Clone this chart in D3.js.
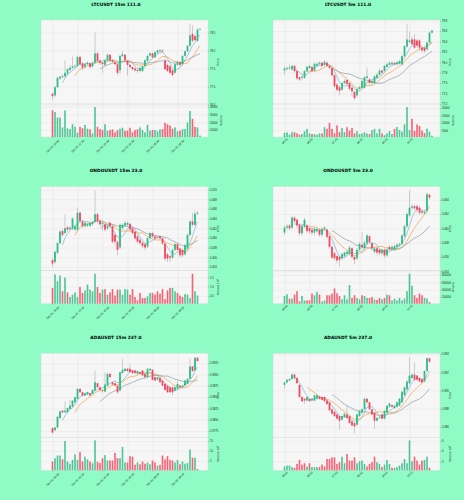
<!DOCTYPE html>
<html>
<head>
<meta charset="utf-8">
<script src="https://cdn.jsdelivr.net/npm/d3@7"></script>
<style>
  body { margin: 0; background: #8efcc4; }
  svg { display: block; font-family: "DejaVu Sans", sans-serif; }
</style>
</head>
<body>
<script>
// candles are [open, high, low, close]
const ltc15Candles = [
  [76.80,76.84,76.62,76.73],[76.75,77.02,76.70,76.98],[76.98,77.28,76.95,77.24],[77.22,77.30,77.18,77.27],[77.26,77.34,77.22,77.29],
  [77.28,77.72,77.25,77.38],[77.36,77.52,77.30,77.48],[77.46,77.60,77.42,77.52],[77.52,77.83,77.48,77.56],[77.55,77.62,77.50,77.57],
  [77.57,77.86,77.54,77.82],[77.82,77.85,77.58,77.62],[77.64,77.68,77.46,77.52],[77.55,77.66,77.50,77.62],[77.62,77.70,77.58,77.66],
  [77.65,77.68,77.50,77.54],[77.56,77.70,77.52,77.66],[77.66,78.50,77.62,77.92],[77.92,77.96,77.66,77.71],[77.72,77.76,77.60,77.66],
  [77.66,77.70,77.38,77.62],[77.60,77.76,77.56,77.73],[77.73,77.92,77.70,77.88],[77.88,77.90,77.68,77.73],[77.73,77.76,77.64,77.68],
  [77.68,77.70,77.58,77.62],[77.62,77.66,77.32,77.38],[77.45,77.88,77.34,77.85],[77.85,77.98,77.82,77.90],[77.88,77.90,77.70,77.73],
  [77.72,77.74,77.30,77.60],[77.60,77.62,77.50,77.54],[77.54,77.56,77.44,77.48],[77.50,77.53,77.40,77.45],[77.46,77.49,77.38,77.43],
  [77.43,77.55,77.40,77.52],[77.43,77.60,77.40,77.57],[77.57,77.76,77.55,77.73],[77.71,77.88,77.68,77.85],[77.86,77.95,77.83,77.92],
  [77.92,77.94,77.78,77.81],[77.81,77.98,77.78,77.95],[77.94,78.02,77.90,78.00],[77.98,78.04,77.96,78.01],[78.00,78.03,77.94,77.97],
  [77.72,77.78,77.45,77.48],[77.60,77.64,77.40,77.43],[77.56,77.60,77.35,77.38],[77.45,77.48,77.28,77.32],[77.38,77.65,77.35,77.62],
  [77.60,77.72,77.56,77.68],[77.68,77.72,77.55,77.60],[77.62,77.88,77.58,77.85],[77.85,78.00,77.82,77.98],[77.98,78.16,77.95,78.13],
  [78.13,78.74,78.10,78.42],[78.46,78.70,78.22,78.27],[78.40,78.44,78.25,78.29],[78.27,78.62,78.24,78.58],[78.58,78.62,78.56,78.60]
];
const ltc15Volume = [
  35300,33200,26000,26000,13200,35300,12000,11000,17400,14000,
  6400,14000,12300,16600,11500,10600,5500,39600,14000,11000,
  9800,17400,8900,9800,10600,6800,9400,11500,12800,8900,
  8900,12800,6800,9800,10600,13200,9800,6800,16600,8900,
  9800,9800,8100,10600,11000,19100,17400,15700,11500,13200,
  8100,8900,11000,11000,19600,34500,24300,14000,13200,2550
];

const ltc5Candles = [
  [77.84,77.93,77.76,77.88],[77.87,77.92,77.84,77.89],[77.88,77.96,77.85,77.90],[77.86,77.95,77.84,77.93],[77.93,77.95,77.80,77.83],
  [77.83,77.85,77.66,77.69],[77.71,77.73,77.64,77.67],[77.70,77.76,77.66,77.72],[77.70,77.85,77.68,77.83],[77.83,77.94,77.81,77.91],
  [77.89,77.95,77.87,77.93],[77.91,77.93,77.80,77.83],[77.84,77.99,77.82,77.97],[77.93,78.00,77.91,77.97],[77.96,78.02,77.94,77.99],
  [77.99,78.01,77.90,77.93],[77.95,78.04,77.93,78.01],[77.99,78.02,77.91,77.93],[77.93,77.95,77.86,77.89],[77.89,77.91,77.72,77.75],
  [77.75,77.77,77.50,77.54],[77.57,77.60,77.44,77.47],[77.52,77.55,77.36,77.45],[77.47,77.62,77.45,77.60],[77.60,77.68,77.57,77.64],
  [77.66,77.68,77.55,77.58],[77.60,77.62,77.46,77.49],[77.51,77.53,77.34,77.44],[77.43,77.45,77.27,77.31],[77.36,77.50,77.33,77.48],
  [77.49,77.55,77.46,77.52],[77.51,77.66,77.49,77.64],[77.51,77.73,77.50,77.71],[77.70,77.90,77.68,77.73],[77.67,77.70,77.57,77.60],
  [77.60,77.67,77.58,77.64],[77.60,77.75,77.58,77.73],[77.70,77.80,77.68,77.76],[77.76,77.88,77.74,77.84],[77.84,77.86,77.77,77.80],
  [77.83,77.95,77.81,77.93],[77.91,77.99,77.89,77.96],[77.95,78.02,77.93,77.99],[77.96,78.02,77.94,77.99],[77.99,78.01,77.93,77.96],
  [77.96,78.03,77.94,78.00],[77.97,78.05,77.95,78.02],[77.96,78.15,77.94,78.12],[78.12,78.34,78.10,78.31],[78.30,78.74,78.28,78.44],
  [78.39,78.58,78.37,78.42],[78.44,78.50,78.32,78.35],[78.44,78.54,78.25,78.28],[78.42,78.45,78.28,78.32],[78.42,78.45,78.22,78.28],
  [78.28,78.30,78.19,78.23],[78.28,78.30,78.18,78.22],[78.25,78.40,78.22,78.38],[78.38,78.60,78.36,78.57],[78.57,78.63,78.55,78.61]
];
const ltc5Volume = [
  3200,3600,2000,3600,3600,2800,2000,2400,4300,5900,
  2800,2400,2400,2000,2800,2800,7000,5900,10000,5900,
  2800,8200,3600,6400,3600,7000,4700,6400,2800,4300,
  2400,2800,3600,2800,2400,5000,5900,2800,5900,2800,
  1600,2800,4300,2400,5900,7200,5200,4000,8900,20700,
  5000,12700,4500,8900,7800,4700,3000,6000,4000,1200
];

const ondo15Candles = [
  [.4554,.4558,.4540,.4547],[.4550,.4574,.4546,.4571],[.4569,.4592,.4566,.4589],[.4589,.4616,.4586,.4613],[.4614,.4618,.4602,.4606],
  [.4610,.4649,.4607,.4620],[.4622,.4625,.4613,.4617],[.4618,.4624,.4615,.4621],[.4619,.4642,.4616,.4640],[.4617,.4627,.4614,.4624],
  [.4617,.4663,.4614,.4652],[.4652,.4655,.4630,.4635],[.4634,.4637,.4620,.4624],[.4624,.4634,.4621,.4631],[.4625,.4632,.4622,.4629],
  [.4625,.4634,.4622,.4631],[.4628,.4636,.4625,.4633],[.4633,.4698,.4630,.4649],[.4649,.4652,.4630,.4635],[.4635,.4638,.4625,.4628],
  [.4628,.4634,.4615,.4631],[.4628,.4631,.4613,.4617],[.4620,.4628,.4616,.4625],[.4631,.4634,.4620,.4624],[.4624,.4627,.4588,.4592],
  [.4606,.4609,.4585,.4592],[.4592,.4595,.4564,.4575],[.4580,.4630,.4577,.4627],[.4620,.4630,.4616,.4627],[.4625,.4635,.4622,.4631],
  [.4627,.4634,.4624,.4631],[.4629,.4631,.4614,.4617],[.4620,.4623,.4606,.4610],[.4613,.4616,.4595,.4599],[.4603,.4606,.4588,.4592],
  [.4596,.4599,.4585,.4589],[.4590,.4592,.4579,.4583],[.4587,.4589,.4574,.4580],[.4582,.4602,.4579,.4599],[.4599,.4613,.4597,.4610],
  [.4610,.4613,.4599,.4603],[.4603,.4606,.4594,.4599],[.4602,.4604,.4598,.4601],[.4603,.4605,.4596,.4599],[.4599,.4601,.4585,.4588],
  [.4588,.4590,.4553,.4557],[.4566,.4569,.4550,.4557],[.4562,.4565,.4550,.4559],[.4559,.4578,.4556,.4575],[.4575,.4590,.4572,.4587],
  [.4587,.4589,.4571,.4575],[.4578,.4580,.4560,.4564],[.4575,.4578,.4560,.4564],[.4566,.4588,.4563,.4585],[.4578,.4609,.4575,.4606],
  [.4606,.4637,.4603,.4634],[.4634,.4652,.4623,.4627],[.4627,.4656,.4624,.4650],[.4650,.4655,.4648,.4652]
];
// millions
const ondo15Volume = [
  0.92,1.65,1.28,1.59,0.74,1.48,0.68,0.43,0.56,0.68,
  0.43,0.97,0.65,0.79,1.10,0.83,0.74,1.68,0.97,0.65,
  0.83,0.86,0.56,0.68,0.86,0.51,0.83,0.83,0.56,0.86,
  0.83,0.56,0.86,0.43,0.25,0.65,0.38,0.38,0.47,0.65,
  0.65,0.56,0.74,0.61,0.86,0.32,0.79,0.92,0.92,0.74,
  0.65,0.51,0.43,0.59,0.56,0.38,1.68,0.74,0.51
];

const ondo5Candles = [
  [.4594,.4604,.4590,.4601],[.4601,.4606,.4598,.4603],[.4604,.4606,.4597,.4600],[.4601,.4617,.4598,.4615],[.4615,.4617,.4607,.4610],
  [.4612,.4614,.4600,.4604],[.4605,.4607,.4590,.4593],[.4593,.4606,.4590,.4603],[.4602,.4615,.4600,.4612],[.4604,.4606,.4593,.4596],
  [.4600,.4602,.4592,.4596],[.4598,.4600,.4590,.4594],[.4594,.4601,.4590,.4599],[.4596,.4602,.4594,.4599],[.4598,.4600,.4588,.4591],
  [.4591,.4602,.4588,.4599],[.4599,.4603,.4597,.4601],[.4598,.4600,.4585,.4588],[.4589,.4591,.4571,.4574],[.4574,.4576,.4556,.4559],
  [.4565,.4567,.4555,.4558],[.4561,.4563,.4551,.4555],[.4560,.4562,.4546,.4556],[.4558,.4566,.4555,.4564],[.4561,.4568,.4558,.4566],
  [.4564,.4570,.4562,.4567],[.4564,.4576,.4561,.4573],[.4572,.4574,.4557,.4560],[.4560,.4562,.4550,.4556],[.4558,.4572,.4555,.4570],
  [.4570,.4581,.4567,.4578],[.4577,.4595,.4570,.4573],[.4572,.4583,.4569,.4580],[.4579,.4592,.4576,.4590],[.4589,.4591,.4578,.4581],
  [.4579,.4581,.4569,.4572],[.4567,.4575,.4564,.4572],[.4572,.4574,.4562,.4566],[.4570,.4572,.4562,.4565],[.4565,.4572,.4562,.4570],
  [.4570,.4572,.4559,.4562],[.4562,.4573,.4560,.4570],[.4574,.4576,.4569,.4571],[.4571,.4576,.4569,.4574],[.4570,.4577,.4568,.4575],
  [.4574,.4579,.4572,.4577],[.4576,.4580,.4574,.4578],[.4578,.4592,.4576,.4590],[.4589,.4605,.4587,.4603],[.4603,.4622,.4600,.4620],
  [.4618,.4653,.4616,.4629],[.4629,.4634,.4626,.4631],[.4631,.4633,.4625,.4628],[.4631,.4633,.4622,.4626],[.4629,.4631,.4619,.4622],
  [.4624,.4626,.4619,.4622],[.4621,.4626,.4619,.4623],[.4624,.4650,.4621,.4648],[.4647,.4649,.4640,.4643]
];
const ondo5Volume = [
  228000,275000,155000,155000,265000,357000,81000,228000,108000,108000,
  108000,293000,247000,339000,265000,81000,108000,247000,247000,293000,
  431000,302000,228000,136000,247000,136000,523000,173000,247000,173000,
  136000,247000,228000,173000,173000,201000,136000,118000,173000,136000,
  173000,265000,247000,108000,155000,108000,173000,108000,155000,357000,
  830000,505000,247000,173000,293000,247000,173000,155000,63000
];

const ada15Candles = [
  [.37815,.37830,.37697,.37719],[.37771,.37845,.37750,.37830],[.37830,.38080,.37815,.38067],[.38037,.38200,.38020,.38185],[.38200,.38215,.38150,.38163],
  [.38165,.38407,.38150,.38200],[.38163,.38270,.38150,.38259],[.38237,.38436,.38225,.38311],[.38289,.38435,.38275,.38422],[.38385,.38510,.38370,.38496],
  [.38459,.38695,.38445,.38681],[.38681,.38695,.38595,.38607],[.38607,.38620,.38520,.38533],[.38533,.38595,.38520,.38584],[.38555,.38620,.38545,.38607],
  [.38584,.38595,.38520,.38533],[.38570,.38670,.38560,.38658],[.38644,.39087,.38630,.38828],[.38806,.38815,.38705,.38717],[.38717,.38725,.38645,.38658],
  [.38658,.38665,.38600,.38644],[.38621,.39050,.38610,.38777],[.38754,.39025,.38740,.39013],[.39013,.39025,.38925,.38939],[.38828,.38840,.38765,.38777],
  [.38806,.38815,.38740,.38754],[.38754,.38765,.38570,.38607],[.38644,.39060,.38630,.39050],[.39028,.39346,.39015,.39102],[.39072,.39135,.39060,.39124],
  [.39124,.39140,.39060,.39072],[.39124,.39235,.39035,.39050],[.39087,.39095,.39015,.39028],[.39087,.39095,.39015,.39028],[.39013,.39085,.39000,.39072],
  [.39050,.39060,.39000,.39013],[.39087,.39095,.38960,.38976],[.39013,.39020,.38925,.38939],[.38939,.39135,.38925,.39124],[.39087,.39140,.39075,.39124],
  [.39102,.39110,.38865,.38880],[.38939,.38950,.38850,.38865],[.38880,.38950,.38865,.38939],[.38925,.38935,.38815,.38828],[.38865,.38875,.38740,.38754],
  [.38791,.38800,.38640,.38658],[.38754,.38765,.38590,.38607],[.38717,.38725,.38590,.38607],[.38717,.38725,.38540,.38607],[.38644,.38730,.38630,.38717],
  [.38681,.38865,.38670,.38791],[.38754,.38765,.38705,.38717],[.38717,.38765,.38705,.38754],[.38754,.38875,.38740,.38865],[.38791,.38915,.38780,.38902],
  [.38902,.39346,.38890,.39176],[.39176,.39185,.39060,.39072],[.39087,.39380,.39075,.39368],[.39368,.39375,.39280,.39294]
];
// millions
const ada15Volume = [
  4.7,6.3,7.7,7.7,5.8,15.0,4.7,3.6,5.5,8.3,
  5.5,9.4,4.7,7.1,5.8,4.7,3.9,15.3,4.5,3.9,
  6.3,7.9,5.2,5.2,5.2,9.0,6.4,6.4,12.0,4.2,
  4.2,7.4,7.1,3.1,4.2,3.3,4.7,3.6,4.2,3.3,
  5.2,4.2,2.6,3.1,7.7,5.8,7.4,5.5,5.2,4.2,
  5.5,3.3,4.7,3.6,3.9,10.7,6.6,6.6,0.9
];

const ada5Candles = [
  [.39061,.39095,.39023,.39088],[.39088,.39125,.39080,.39118],[.39110,.39135,.39100,.39126],[.39126,.39185,.39118,.39175],[.39175,.39185,.39125,.39137],
  [.39137,.39145,.39070,.39080],[.39061,.39070,.38915,.38928],[.38928,.38935,.38870,.38882],[.38909,.38915,.38851,.38889],[.38889,.38935,.38880,.38928],
  [.38909,.38915,.38875,.38882],[.38889,.38915,.38880,.38909],[.38889,.38955,.38880,.38947],[.38909,.38966,.38900,.38947],[.38935,.38945,.38900,.38909],
  [.38928,.38935,.38890,.38897],[.38928,.38935,.38875,.38882],[.38889,.38895,.38840,.38851],[.38870,.38875,.38775,.38783],[.38794,.38800,.38735,.38745],
  [.38767,.38775,.38710,.38718],[.38737,.38745,.38680,.38691],[.38718,.38725,.38566,.38668],[.38680,.38725,.38670,.38718],[.38707,.38755,.38700,.38745],
  [.38737,.38832,.38690,.38699],[.38718,.38725,.38635,.38642],[.38661,.38670,.38605,.38615],[.38642,.38650,.38527,.38604],[.38623,.38745,.38615,.38737],
  [.38718,.38785,.38710,.38775],[.38756,.38800,.38745,.38794],[.38794,.38920,.38785,.38909],[.38909,.38915,.38860,.38870],[.38870,.38875,.38785,.38794],
  [.38794,.38800,.38725,.38737],[.38756,.38765,.38580,.38668],[.38668,.38705,.38660,.38699],[.38699,.38715,.38690,.38707],[.38737,.38745,.38680,.38691],
  [.38691,.38785,.38680,.38775],[.38756,.38840,.38745,.38832],[.38821,.38866,.38810,.38858],[.38840,.38850,.38810,.38821],[.38806,.38845,.38800,.38832],
  [.38821,.38880,.38810,.38870],[.38832,.38920,.38825,.38909],[.38870,.38995,.38860,.38985],[.38947,.39045,.38940,.39034],[.39011,.39110,.39000,.39099],
  [.39080,.39366,.39070,.39164],[.39137,.39185,.39130,.39175],[.39175,.39309,.39110,.39118],[.39164,.39170,.39110,.39118],[.39137,.39145,.39090,.39099],
  [.39126,.39135,.39080,.39088],[.39099,.39220,.39090,.39213],[.39213,.39362,.39205,.39354],[.39354,.39360,.39305,.39316]
];
// millions
const ada5Volume = [
  0.97,1.16,1.16,0.84,0.71,1.48,2.26,1.35,1.61,0.97,
  1.61,0.84,0.84,0.84,0.84,1.35,0.97,2.45,2.45,2.77,
  2.77,1.48,1.81,2.90,1.61,3.42,2.13,2.13,2.77,1.61,
  2.00,2.13,1.48,0.97,1.48,1.81,2.90,1.81,1.48,0.84,
  1.35,2.26,1.48,0.71,0.71,0.84,1.16,1.61,2.45,1.61,
  6.10,2.00,2.90,2.13,1.35,2.13,2.26,2.90,0.71
];

const timeLabels15m = ["Dec 01, 20:00", "Dec 01, 22:30", "Dec 02, 01:00", "Dec 02, 03:30", "Dec 02, 06:00", "Dec 02, 08:30"];
const timeLabels5m = ["06:00", "06:50", "07:40", "08:30", "09:20", "10:10"];
const timeTickIndex = [0, 10, 20, 30, 40, 50];

const ltc15PriceTicks = [76.5, 77.0, 77.5, 78.0, 78.5];
const ltc5PriceTicks = [77.2, 77.4, 77.6, 77.8, 78.0, 78.2, 78.4, 78.6, 78.8];
const ondo15PriceTicks = [0.454, 0.456, 0.458, 0.460, 0.462, 0.464, 0.466, 0.468, 0.470];
const ondo5PriceTicks = [0.454, 0.456, 0.458, 0.460, 0.462, 0.464];
const ada15PriceTicks = [0.3775, 0.3800, 0.3825, 0.3850, 0.3875, 0.3900, 0.3925];
const ada5PriceTicks = [0.386, 0.388, 0.390, 0.392, 0.394];

const ltc15VolumeTicks = [10000, 20000, 30000, 40000];
const ltc5VolumeTicks = [5000, 10000, 15000, 20000];
const ondo15VolumeTicks = [0.5, 1.0, 1.5];
const ondo5VolumeTicks = [200000, 400000, 600000, 800000];
const ada15VolumeTicks = [5, 10, 15];
const ada5VolumeTicks = [2, 4, 6];

const mavPeriods = [5, 10, 20];
const mavColors = ["#7fb2d9", "#f2a246", "#8e9ba6"];
const upColor = "#2ebd85", downColor = "#f6465d";

const panels = [
  { title: "LTCUSDT 15m 111.0", candles: ltc15Candles, volume: ltc15Volume, priceTicks: ltc15PriceTicks, priceFmt: ".1f",
    volTicks: ltc15VolumeTicks, volFmt: "d", volExp: false, times: timeLabels15m },
  { title: "LTCUSDT 5m 111.0", candles: ltc5Candles, volume: ltc5Volume, priceTicks: ltc5PriceTicks, priceFmt: ".1f",
    volTicks: ltc5VolumeTicks, volFmt: "d", volExp: false, times: timeLabels5m },
  { title: "ONDOUSDT 15m 23.0", candles: ondo15Candles, volume: ondo15Volume, priceTicks: ondo15PriceTicks, priceFmt: ".3f",
    volTicks: ondo15VolumeTicks, volFmt: ".1f", volExp: true, times: timeLabels15m },
  { title: "ONDOUSDT 5m 23.0", candles: ondo5Candles, volume: ondo5Volume, priceTicks: ondo5PriceTicks, priceFmt: ".3f",
    volTicks: ondo5VolumeTicks, volFmt: "d", volExp: false, times: timeLabels5m },
  { title: "ADAUSDT 15m 237.0", candles: ada15Candles, volume: ada15Volume, priceTicks: ada15PriceTicks, priceFmt: ".4f",
    volTicks: ada15VolumeTicks, volFmt: "d", volExp: true, times: timeLabels15m },
  { title: "ADAUSDT 5m 237.0", candles: ada5Candles, volume: ada5Volume, priceTicks: ada5PriceTicks, priceFmt: ".3f",
    volTicks: ada5VolumeTicks, volFmt: "d", volExp: true, times: timeLabels5m }
];

const W = 232, H = 500 / 3;
const plot = { left: 41, right: 208, top: 20, split: 104, bottom: 137 };

const svg = d3.select("body").append("svg")
  .attr("width", 464)
  .attr("height", 500);

panels.forEach(function (p, k) {
  const g = svg.append("g")
    .attr("transform", "translate(" + (k % 2) * W + "," + Math.floor(k / 2) * H + ")");
  drawPanel(g, p);
});

function drawPanel(g, p) {
  const x = d3.scaleLinear().domain([-4.6, 62.2]).range([plot.left, plot.right]);
  const lo = d3.min(p.candles, d => d[2]), hi = d3.max(p.candles, d => d[1]);
  const pad = (hi - lo) * 0.05;
  const y = d3.scaleLinear().domain([lo - pad, hi + pad]).range([plot.split, plot.top]);
  const v = d3.scaleLinear()
    .domain([0.3 * d3.min(p.volume), 1.1 * d3.max(p.volume)])
    .range([plot.bottom, plot.split]);
  const pw = plot.right - plot.left;

  g.append("text")
    .attr("x", 116).attr("y", 5.6)
    .attr("text-anchor", "middle")
    .attr("font-size", 4.4)
    .attr("font-weight", "bold")
    .text(p.title);

  // axes backgrounds
  g.append("rect")
    .attr("x", plot.left).attr("y", plot.top)
    .attr("width", pw).attr("height", plot.split - plot.top)
    .attr("fill", "#f6f6f6").attr("stroke", "#d9d9d9").attr("stroke-width", 0.4);
  g.append("rect")
    .attr("x", plot.left).attr("y", plot.split)
    .attr("width", pw).attr("height", plot.bottom - plot.split)
    .attr("fill", "#f6f6f6").attr("stroke", "#d9d9d9").attr("stroke-width", 0.4);

  // grid
  const gridStyle = sel => {
    sel.select(".domain").remove();
    sel.selectAll("line").attr("stroke", "#e0e0e0").attr("stroke-width", 0.35);
  };
  g.append("g").attr("transform", "translate(" + plot.right + ",0)")
    .call(d3.axisRight(y).tickValues(p.priceTicks).tickSize(-pw).tickFormat(""))
    .call(gridStyle);
  g.append("g").attr("transform", "translate(" + plot.right + ",0)")
    .call(d3.axisRight(v).tickValues(p.volTicks).tickSize(-pw).tickFormat(""))
    .call(gridStyle);
  g.append("g").attr("transform", "translate(0," + plot.split + ")")
    .call(d3.axisTop(x).tickValues(timeTickIndex).tickSize(plot.split - plot.top).tickFormat(""))
    .call(gridStyle);
  g.append("g").attr("transform", "translate(0," + plot.bottom + ")")
    .call(d3.axisTop(x).tickValues(timeTickIndex).tickSize(plot.bottom - plot.split).tickFormat(""))
    .call(gridStyle);

  // moving averages
  const closes = p.candles.map(d => d[3]);
  mavPeriods.forEach(function (n, m) {
    const pts = closes.map((c, i) => i < n - 1 ? null : [i, d3.mean(closes.slice(i - n + 1, i + 1))])
      .filter(d => d);
    g.append("path")
      .datum(pts)
      .attr("fill", "none")
      .attr("stroke", mavColors[m])
      .attr("stroke-width", 0.7)
      .attr("d", d3.line().x(d => x(d[0])).y(d => y(d[1])));
  });

  // candles
  const candle = g.append("g").selectAll("g")
    .data(p.candles)
    .enter().append("g");
  candle.append("line")
    .attr("x1", (d, i) => x(i)).attr("x2", (d, i) => x(i))
    .attr("y1", d => y(d[1])).attr("y2", d => y(d[2]))
    .attr("stroke", "#a2a2a2")
    .attr("stroke-width", 0.5);
  candle.append("rect")
    .attr("x", (d, i) => x(i) - 0.9)
    .attr("width", 1.8)
    .attr("y", d => y(Math.max(d[0], d[3])))
    .attr("height", d => Math.max(0.4, Math.abs(y(d[0]) - y(d[3]))))
    .attr("fill", d => d[3] >= d[0] ? upColor : downColor);

  // volume
  g.append("g").selectAll("rect")
    .data(p.volume)
    .enter().append("rect")
    .attr("x", (d, i) => x(i) - 0.8)
    .attr("width", 1.6)
    .attr("y", d => v(d))
    .attr("height", d => plot.bottom - v(d))
    .attr("fill", (d, i) => p.candles[i][3] >= p.candles[i][0] ? upColor : downColor)
    .attr("opacity", 0.85);

  // right axes
  const axisStyle = sel => {
    sel.select(".domain").remove();
    sel.selectAll("line").attr("stroke", "#555").attr("stroke-width", 0.3);
    sel.selectAll("text").attr("font-size", 2.7).attr("fill", "#222").attr("x", 2);
  };
  g.append("g").attr("transform", "translate(" + plot.right + ",0)")
    .call(d3.axisRight(y).tickValues(p.priceTicks).tickSize(1).tickFormat(d3.format(p.priceFmt)))
    .call(axisStyle);
  g.append("g").attr("transform", "translate(" + plot.right + ",0)")
    .call(d3.axisRight(v).tickValues(p.volTicks).tickSize(1).tickFormat(d3.format(p.volFmt)))
    .call(axisStyle);

  g.append("text")
    .attr("transform", "translate(" + (plot.right + 11) + "," + (plot.top + plot.split) / 2 + ") rotate(-90)")
    .attr("text-anchor", "middle")
    .attr("font-size", 2.8)
    .attr("fill", "#222")
    .text("Price");
  const vl = g.append("text")
    .attr("transform", "translate(" + (plot.right + (p.volExp ? 11 : 14)) + "," + (plot.split + plot.bottom) / 2 + ") rotate(-90)")
    .attr("text-anchor", "middle")
    .attr("font-size", 2.8)
    .attr("fill", "#222")
    .text("Volume");
  if (p.volExp) {
    vl.append("tspan").text("  10");
    vl.append("tspan").attr("dy", -1).attr("font-size", 1.8).text("6");
  }

  // time axis
  g.append("g").attr("transform", "translate(0," + plot.bottom + ")")
    .call(d3.axisBottom(x).tickValues(timeTickIndex).tickSize(1).tickFormat((d, i) => p.times[i]))
    .call(sel => {
      sel.select(".domain").remove();
      sel.selectAll("line").attr("stroke", "#555").attr("stroke-width", 0.3);
      sel.selectAll("text")
        .attr("y", 0).attr("dy", 0)
        .attr("font-size", 2.7)
        .attr("fill", "#222")
        .attr("text-anchor", "middle")
        .attr("dominant-baseline", "central")
        .attr("transform", "translate(0," + (p.times[0].length > 6 ? 9.5 : 4.5) + ") rotate(-45)");
    });
}
</script>
</body>
</html>
